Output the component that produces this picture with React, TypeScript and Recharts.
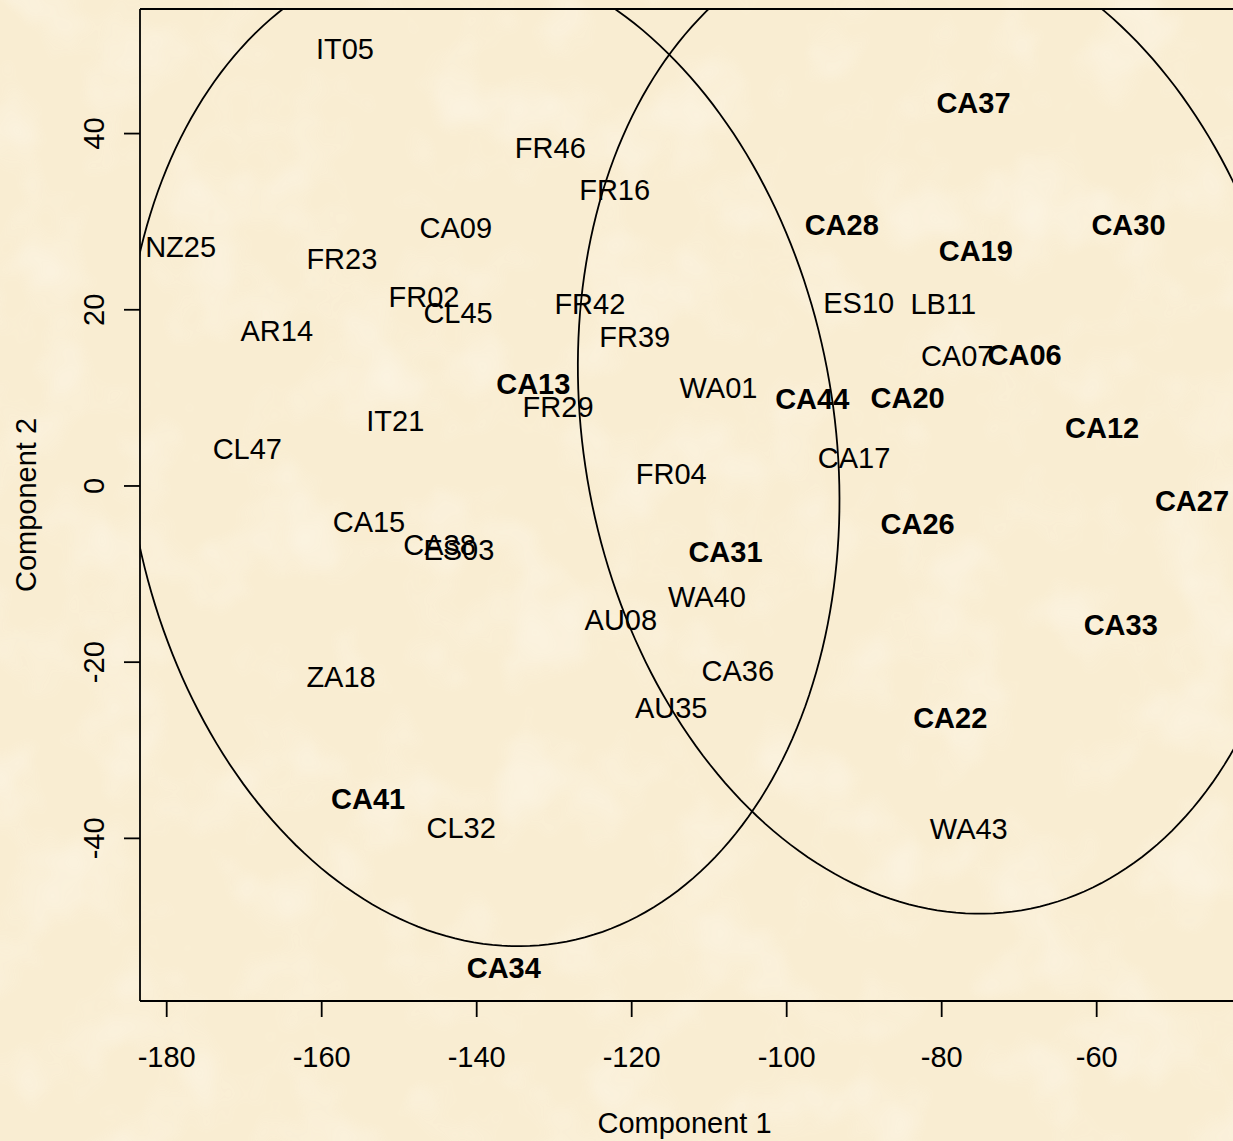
import React from "react";
import {
  ScatterChart,
  Scatter,
  XAxis,
  YAxis,
  ReferenceLine,
  Label,
} from "recharts";

// tick values
const xTicks = [-180, -160, -140, -120, -100, -80, -60];
const yTicks = [-40, -20, 0, 20, 40];

// plain labels
const plainNames = [
  "IT05", "NZ25", "FR23", "AR14", "CA09", "FR02", "CL45", "FR46", "FR16", "FR42",
  "FR39", "IT21", "CL47", "CA15", "ZA18", "FR29", "WA01", "FR04", "CA38", "ES03",
  "WA40", "AU08", "CA36", "AU35", "CL32", "ES10", "LB11", "CA07", "CA17", "WA43",
];
const plainComp1 = [
  -157.0, -178.2, -157.4, -165.8, -142.7, -146.8, -142.4, -130.5, -122.2, -125.4,
  -119.6, -150.5, -169.6, -153.9, -157.5, -129.5, -108.8, -114.9, -144.8, -142.3,
  -110.3, -121.4, -106.3, -114.9, -142.0, -90.7, -79.8, -78.0, -91.3, -76.5,
];
const plainComp2 = [
  49.6, 27.2, 25.8, 17.6, 29.3, 21.5, 19.7, 38.4, 33.7, 20.7,
  17.0, 7.4, 4.2, -4.0, -21.6, 9.0, 11.2, 1.4, -6.6, -7.2,
  -12.6, -15.2, -21.0, -25.1, -38.8, 20.8, 20.7, 14.8, 3.2, -38.9,
];

// bold labels
const boldNames = [
  "CA37", "CA28", "CA19", "CA30", "CA06", "CA13", "CA44", "CA20",
  "CA12", "CA27", "CA26", "CA31", "CA33", "CA22", "CA41", "CA34",
];
const boldComp1 = [
  -75.9, -92.9, -75.6, -55.9, -69.3, -132.7, -96.7, -84.4,
  -59.3, -47.7, -83.1, -107.9, -56.9, -78.9, -154.0, -136.5,
];
const boldComp2 = [
  43.5, 29.7, 26.7, 29.7, 14.9, 11.6, 9.9, 10.0,
  6.6, -1.7, -4.3, -7.4, -15.7, -26.3, -35.5, -54.7,
];

// cluster ellipses: centre, semi-axes, rotation (deg)
const ellipseLeft = { cx: -139.37, cy: 4.21, a: 45.48, b: 57.02, angle: 13.5 };
const ellipseRight = { cx: -80.34, cy: 7.36, a: 45.72, b: 56.64, angle: 15.7 };

const X_DOMAIN: [number, number] = [-183.445, -42.41];
const Y_DOMAIN: [number, number] = [-58.46, 54.14];
const FONT = "'Liberation Sans', Arial, Helvetica, sans-serif";

function ellipsePath(e: { cx: number; cy: number; a: number; b: number; angle: number }) {
  const th = (e.angle * Math.PI) / 180;
  const pts = [];
  const n = 240;
  for (let i = 0; i <= n; i++) {
    const t = (2 * Math.PI * i) / n;
    pts.push({
      x: e.cx + e.a * Math.cos(t) * Math.cos(th) - e.b * Math.sin(t) * Math.sin(th),
      y: e.cy + e.a * Math.cos(t) * Math.sin(th) + e.b * Math.sin(t) * Math.cos(th),
    });
  }
  return pts;
}

const plainData = plainNames.map((name, i) => ({ name, x: plainComp1[i], y: plainComp2[i] }));
const boldData = boldNames.map((name, i) => ({ name, x: boldComp1[i], y: boldComp2[i] }));

const labelShape = (bold: boolean) => (props: any) => {
  const cx = props.cx ?? props.x + (props.width || 0) / 2;
  const cy = props.cy ?? props.y + (props.height || 0) / 2;
  return (
    <text
      x={cx}
      y={cy}
      dy="0.36em"
      textAnchor="middle"
      fontSize={29}
      fontFamily={FONT}
      fontWeight={bold ? "bold" : "normal"}
      fill="#000"
    >
      {props.payload.name}
    </text>
  );
};

function YTick({ x, y, payload }: any) {
  return (
    <text
      x={x}
      y={y}
      transform={`rotate(-90 ${x} ${y})`}
      textAnchor="middle"
      fontSize={29}
      fontFamily={FONT}
      fill="#000"
    >
      {payload.value}
    </text>
  );
}

// parchment-like backdrop, purely decorative
function Parchment() {
  return (
    <svg width={1233} height={1141} style={{ position: "absolute", left: 0, top: 0 }}>
      <defs>
        <filter id="paper" x="0" y="0" width="100%" height="100%">
          <feTurbulence type="fractalNoise" baseFrequency="0.012" numOctaves={3} seed={7} />
          <feColorMatrix
            type="matrix"
            values="0 0 0 0 1  0 0 0 0 0.98  0 0 0 0 0.93  0 0 0 1.6 -0.75"
          />
        </filter>
      </defs>
      <rect width={1233} height={1141} fill="#F9EDD2" />
      <rect width={1233} height={1141} filter="url(#paper)" opacity={0.55} />
    </svg>
  );
}

export default function App() {
  return (
    <div
      style={{
        position: "absolute",
        left: 0,
        top: 0,
        width: 1233,
        height: 1141,
        overflow: "hidden",
        background: "#F9EDD2",
      }}
    >
      <Parchment />
      <div style={{ position: "absolute", left: 0, top: 0 }}>
        <ScatterChart width={1233} height={1141} margin={{ top: 9, right: 0, bottom: 0, left: 0 }}>
          <XAxis
            type="number"
            dataKey="x"
            domain={X_DOMAIN}
            allowDataOverflow
            ticks={xTicks}
            interval={0}
            height={140}
            tickSize={16}
            tickMargin={29}
            stroke="#000"
            strokeWidth={1.8}
            tick={{ fill: "#000", fontSize: 29, fontFamily: FONT }}
          >
            <Label
              content={({ viewBox }: any) => (
                <text
                  x={viewBox.x + viewBox.width / 2 - 2}
                  y={viewBox.y + 132}
                  textAnchor="middle"
                  fontSize={29}
                  fontFamily={FONT}
                  fill="#000"
                >
                  Component 1
                </text>
              )}
            />
          </XAxis>
          <YAxis
            type="number"
            dataKey="y"
            domain={Y_DOMAIN}
            allowDataOverflow
            ticks={yTicks}
            interval={0}
            width={140}
            tickSize={16}
            tickMargin={20}
            stroke="#000"
            strokeWidth={1.8}
            tick={<YTick />}
          >
            <Label
              content={({ viewBox }: any) => (
                <text
                  x={36}
                  y={viewBox.y + viewBox.height / 2}
                  transform={`rotate(-90 36 ${viewBox.y + viewBox.height / 2})`}
                  textAnchor="middle"
                  fontSize={29}
                  fontFamily={FONT}
                  fill="#000"
                >
                  Component 2
                </text>
              )}
            />
          </YAxis>
          <ReferenceLine y={Y_DOMAIN[1]} stroke="#000" strokeWidth={1.8} />
          <Scatter
            data={ellipsePath(ellipseLeft)}
            line={{ stroke: "#000", strokeWidth: 1.8 }}
            lineType="joint"
            shape={() => <g />}
            isAnimationActive={false}
          />
          <Scatter
            data={ellipsePath(ellipseRight)}
            line={{ stroke: "#000", strokeWidth: 1.8 }}
            lineType="joint"
            shape={() => <g />}
            isAnimationActive={false}
          />
          <Scatter data={plainData} shape={labelShape(false)} isAnimationActive={false} />
          <Scatter data={boldData} shape={labelShape(true)} isAnimationActive={false} />
        </ScatterChart>
      </div>
    </div>
  );
}
